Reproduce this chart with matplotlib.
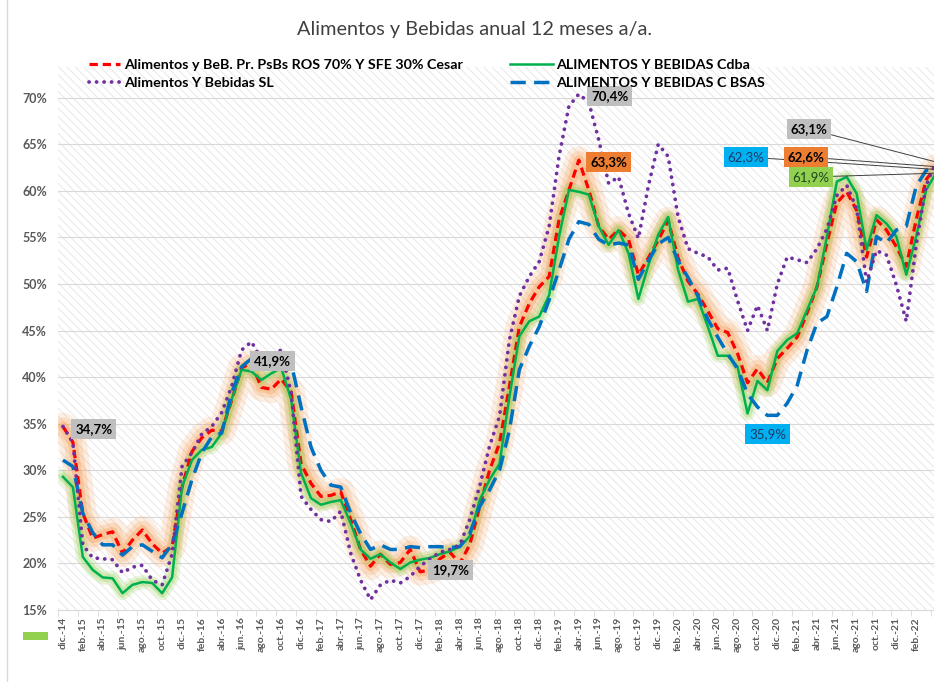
import matplotlib
matplotlib.use("Agg")
import matplotlib.pyplot as plt
from matplotlib.patches import Rectangle
from matplotlib.lines import Line2D

plt.rcParams['font.family'] = ['Lato', 'DejaVu Sans']
plt.rcParams['lines.scale_dashes'] = False
plt.rcParams['hatch.color'] = '#E8E8E8'
plt.rcParams['hatch.linewidth'] = 0.7

# meses dic-14 .. abr-22
meses = ['ene.', 'feb.', 'mar.', 'abr.', 'may.', 'jun.',
         'jul.', 'ago.', 'sep.', 'oct.', 'nov.', 'dic.']
fechas = ['dic.-14']
for anio in range(15, 23):
    for m in meses:
        fechas.append(f"{m}-{anio}")
fechas = fechas[:89]

# Alimentos y BeB. Pr. PsBs ROS 70% Y SFE 30% Cesar
ros_sfe = [34.7, 33.0, 25.4, 22.7, 23.1, 23.4, 21.1, 22.5, 23.6, 22.1,
           21.1, 21.8, 28.2, 32.0, 33.5, 34.3, 34.2, 37.5, 41.0, 41.5,
           38.9, 38.7, 39.8, 38.4, 30.7, 28.6, 27.2, 27.3, 27.7, 24.7,
           21.5, 19.7, 21.0, 19.9, 20.1, 21.5, 19.1, 19.3, 20.5, 21.2,
           20.0, 22.0, 26.1, 30.0, 32.9, 39.0, 45.4, 47.9, 49.7, 50.8,
           56.9, 60.1, 63.3, 60.1, 56.2, 54.8, 55.8, 54.8, 51.0, 52.8,
           54.7, 56.8, 52.8, 50.3, 48.9, 47.1, 45.2, 44.8, 42.5, 39.4,
           40.9, 39.4, 42.0, 43.1, 44.3, 46.9, 49.7, 54.4, 58.7, 59.9,
           57.9, 52.9, 56.9, 55.8, 54.0, 51.9, 56.9, 61.2, 62.6]
# ALIMENTOS Y BEBIDAS Cdba
cdba = [29.3, 28.2, 20.7, 19.3, 18.5, 18.4, 16.8, 17.7, 18.0, 17.9,
        16.8, 18.5, 28.2, 31.1, 32.2, 32.5, 34.0, 37.6, 40.8, 40.6,
        39.7, 40.4, 41.0, 37.6, 29.7, 27.0, 26.3, 26.6, 26.8, 24.3,
        21.5, 20.5, 21.0, 20.1, 19.4, 20.1, 20.4, 20.6, 21.0, 21.3,
        21.8, 22.9, 26.8, 29.0, 30.7, 37.9, 44.4, 46.0, 46.5, 48.8,
        55.1, 60.1, 59.9, 59.6, 56.2, 54.2, 55.8, 53.3, 48.4, 52.0,
        55.3, 57.2, 51.5, 48.1, 48.4, 45.4, 42.3, 42.3, 41.1, 36.1,
        39.6, 38.6, 42.8, 44.0, 44.7, 47.2, 49.7, 55.1, 61.0, 61.5,
        59.7, 53.7, 57.4, 56.5, 55.1, 51.0, 55.1, 60.1, 61.9]
# ALIMENTOS Y BEBIDAS C BSAS
bsas = [31.1, 30.4, 25.4, 23.3, 22.0, 22.0, 20.9, 21.8, 22.0, 21.3,
        20.6, 22.1, 25.4, 29.0, 31.9, 33.6, 34.0, 38.3, 41.1, 42.0,
        41.5, 42.0, 42.5, 41.5, 36.8, 32.5, 30.0, 28.4, 28.2, 25.4,
        23.2, 21.5, 22.0, 21.5, 21.5, 21.8, 21.7, 21.8, 21.8, 21.7,
        21.8, 23.2, 26.1, 27.9, 30.0, 34.3, 40.8, 43.3, 45.4, 48.3,
        51.5, 54.8, 56.7, 56.4, 54.8, 54.2, 54.4, 54.2, 50.5, 52.5,
        54.3, 55.0, 52.5, 50.7, 48.7, 46.2, 44.3, 42.5, 40.9, 38.2,
        36.8, 35.9, 35.9, 37.2, 39.1, 42.9, 45.8, 46.5, 49.7, 53.3,
        52.4, 49.2, 55.1, 54.4, 55.8, 56.2, 60.5, 62.2, 62.3]
# Alimentos Y Bebidas SL
sl = [34.7, 33.0, 22.0, 20.6, 20.5, 20.4, 19.0, 19.6, 19.8, 18.2,
      17.7, 21.0, 30.4, 31.9, 33.9, 34.7, 36.2, 39.0, 42.9, 43.8,
      41.9, 42.5, 42.9, 38.3, 27.2, 25.8, 24.7, 24.5, 25.6, 21.1,
      18.2, 16.1, 17.7, 18.2, 17.9, 18.6, 19.7, 20.5, 21.2, 21.5,
      22.0, 24.7, 28.3, 32.6, 35.8, 44.0, 48.7, 50.8, 52.4, 56.2,
      63.7, 69.1, 70.4, 69.5, 65.5, 60.8, 61.5, 57.6, 54.9, 60.5,
      65.0, 63.7, 57.2, 53.8, 53.3, 52.9, 51.5, 51.7, 48.2, 45.0,
      47.7, 45.0, 50.0, 52.9, 52.6, 52.3, 53.8, 55.9, 59.5, 60.6,
      58.1, 50.2, 53.6, 53.1, 49.9, 46.0, 54.2, 60.6, 63.1]

x = list(range(len(fechas)))
W, H = 934, 682

fig = plt.figure(figsize=(W / 100, H / 100), dpi=100)
# plot area reaches a bit past the right edge, like the cropped original
ax = fig.add_axes([58 / W, 72 / H, 883 / W, 543 / H])
ax.set_xlim(-0.5, 88.5)
ax.set_ylim(15, 73.3)

ax.add_patch(Rectangle((0, 0), 1, 1, transform=ax.transAxes, facecolor='white',
                       hatch='\\\\\\\\', edgecolor='#E8E8E8', lw=0, zorder=0))
for v in range(20, 75, 5):
    ax.axhline(v, color='#D9D9D9', lw=0.8, zorder=1)

# glows
for lw_, a in [(20, 0.16), (13, 0.22), (7, 0.3)]:
    ax.plot(x, ros_sfe, color='#F79646', lw=lw_, alpha=a, solid_capstyle='round',
            solid_joinstyle='round', zorder=2)
for lw_, a in [(10, 0.22), (6, 0.3)]:
    ax.plot(x, cdba, color='#92D050', lw=lw_, alpha=a, solid_capstyle='round',
            solid_joinstyle='round', zorder=3)

ax.plot(x, ros_sfe, color='#FF0000', lw=2.3, dashes=(6, 3.5), zorder=5)
ax.plot(x, cdba, color='#00B050', lw=1.8, zorder=6)
ax.plot(x, bsas, color='#0070C0', lw=2.5, dashes=(11, 6), zorder=7)
ax.plot(x, sl, color='#7030A0', lw=2.7, dashes=(0.1, 5.3), dash_capstyle='round',
        zorder=8)

for s in ['top', 'right', 'left']:
    ax.spines[s].set_visible(False)
ax.spines['bottom'].set_color('#D9D9D9')
ax.set_yticks(range(15, 75, 5))
ax.set_yticklabels([f"{v}%" for v in range(15, 75, 5)], fontsize=9,
                   fontweight='bold', color='#595959')
ax.tick_params(axis='y', length=0, pad=8)
ax.set_xticks(x[:87:2])
ax.set_xticklabels(fechas[:87:2], rotation=90, fontsize=7.5, fontweight='bold',
                   color='#595959')
ax.tick_params(axis='x', length=0, pad=5)
ax.set_xticks([i - 0.5 for i in x[::2]], minor=True)
ax.tick_params(axis='x', which='minor', length=4, color='#D9D9D9')

# data labels
caja = dict(boxstyle='square,pad=0.3', ec='none')
labels = [(3.1, 34.4, '34,7%', '#BFBFBF', 'black', 'bold'),
          (21.1, 41.7, '41,9%', '#BFBFBF', 'black', 'bold'),
          (39.1, 19.3, '19,7%', '#BFBFBF', 'black', 'bold'),
          (55.1, 70.2, '70,4%', '#BFBFBF', 'black', 'bold'),
          (55.0, 63.1, '63,3%', '#ED7D31', 'black', 'bold'),
          (71.0, 33.9, '35,9%', '#00B0F0', '#1F3864', 'normal')]
for lx, ly, t, fc, tc, fw in labels:
    ax.text(lx, ly, t, ha='center', va='center', fontsize=9.5, color=tc,
            fontweight=fw, bbox=dict(caja, fc=fc), zorder=10)

finales = [(809, 129, '63,1%', '#BFBFBF', 'black', 'bold', sl[-1]),
           (746, 157, '62,3%', '#00B0F0', '#1F3864', 'normal', bsas[-1]),
           (806, 157, '62,6%', '#ED7D31', 'black', 'bold', ros_sfe[-1]),
           (811, 177, '61,9%', '#92D050', '#1E4620', 'normal', cdba[-1])]
for px, py, t, fc, tc, fw, v in finales:
    ax.annotate(t, xy=(88, v), xytext=(px, H - py), textcoords='figure pixels',
                ha='center', va='center', fontsize=9.5, color=tc, fontweight=fw,
                bbox=dict(caja, fc=fc),
                arrowprops=dict(arrowstyle='-', color='#404040', lw=0.7,
                                shrinkA=0, shrinkB=0),
                zorder=10, annotation_clip=False)

fig.text(475 / W, 1 - 30 / H, 'Alimentos y Bebidas anual 12 meses a/a.',
         ha='center', va='center', fontsize=14.3, color='#404040')

h_red = Line2D([], [], color='#FF0000', lw=2.3, dashes=(6, 3.5))
h_sl = Line2D([], [], color='#7030A0', lw=2.7, dashes=(0.1, 5.3), dash_capstyle='round')
h_cd = Line2D([], [], color='#00B050', lw=1.8)
h_bs = Line2D([], [], color='#0070C0', lw=2.5, dashes=(11, 6))
leg_kw = dict(frameon=False, loc='upper left', handletextpad=0.25, labelspacing=0.45,
              prop={'weight': 'bold', 'size': 10.3})
fig.legend([h_red, h_sl], ['Alimentos y BeB. Pr. PsBs ROS 70% Y SFE 30% Cesar',
                           'Alimentos Y Bebidas SL'],
           bbox_to_anchor=(76 / W, 1 - 46 / H), handlelength=2.2, **leg_kw)
fig.legend([h_cd, h_bs], ['ALIMENTOS Y BEBIDAS Cdba', 'ALIMENTOS Y BEBIDAS C BSAS'],
           bbox_to_anchor=(497 / W, 1 - 46 / H), handlelength=3.0, **leg_kw)

fig.patches.append(Rectangle((23 / W, 1 - 640 / H), 25 / W, 8 / H,
                             transform=fig.transFigure, fc='#92D050', ec='none'))
fig.lines.append(Line2D([7 / W, 7 / W], [0, 1], transform=fig.transFigure,
                        color='#D9D9D9', lw=1))

fig.savefig('out.png', dpi=100)
